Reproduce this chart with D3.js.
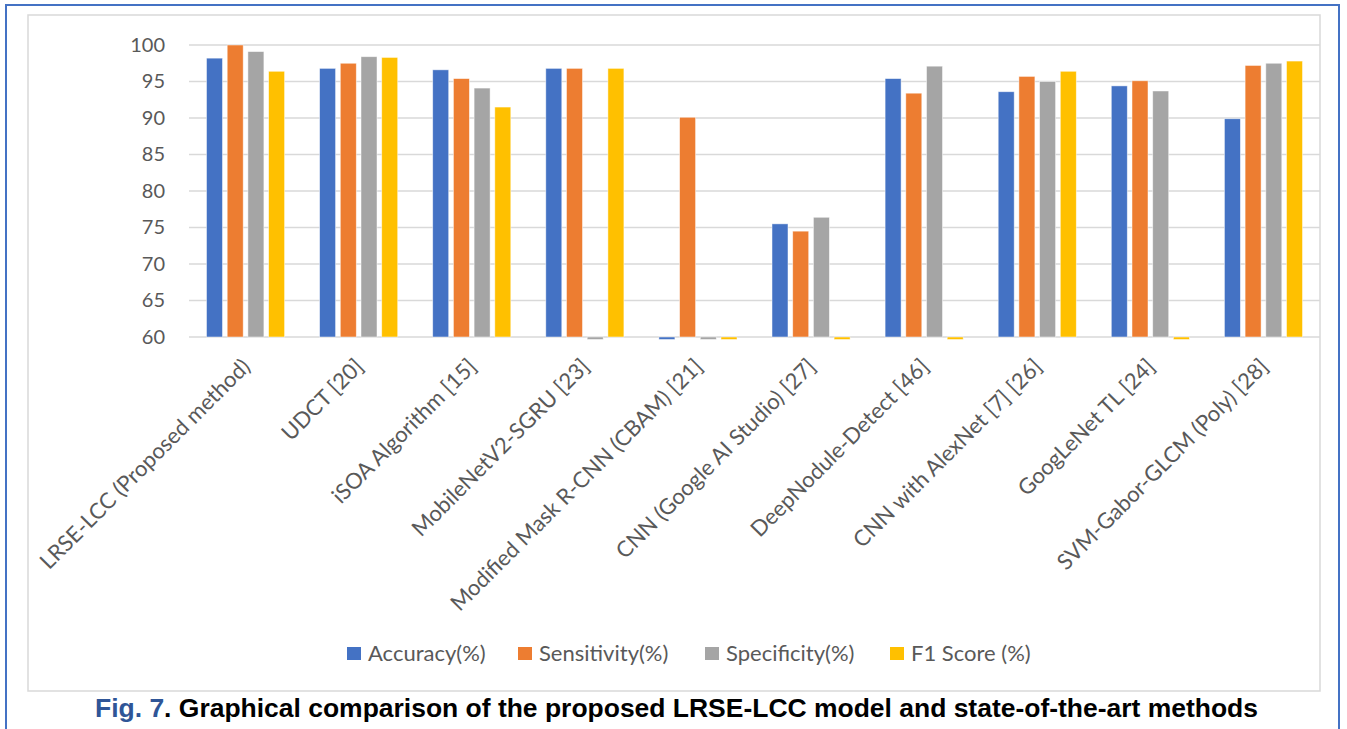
<!DOCTYPE html>
<html>
<head>
<meta charset="utf-8">
<script src="https://cdn.jsdelivr.net/npm/d3@7"></script>
<style>
  body { margin: 0; background: #fff; }
  svg { display: block; }
</style>
</head>
<body>
<div id="chart"></div>
<script>
const categories = [
  'LRSE-LCC (Proposed method)', 'UDCT [20]', 'iSOA Algorithm [15]', 'MobileNetV2-SGRU [23]',
  'Modified Mask R-CNN (CBAM) [21]', 'CNN (Google AI Studio) [27]', 'DeepNodule-Detect [46]',
  'CNN with AlexNet [7] [26]', 'GoogLeNet TL [24]', 'SVM-Gabor-GLCM (Poly) [28]'
];
const seriesNames = ['Accuracy(%)', 'Sensitivity(%)', 'Specificity(%)', 'F1 Score (%)'];
const accuracy    = [98.2, 96.8, 96.6, 96.8, 0,    75.5, 95.4, 93.6, 94.4, 89.9];
const sensitivity = [100,  97.5, 95.4, 96.8, 90.1, 74.5, 93.4, 95.7, 95.1, 97.2];
const specificity = [99.1, 98.4, 94.1, 0,    0,    76.4, 97.1, 95.0, 93.7, 97.5];
const f1Score     = [96.4, 98.3, 91.5, 96.8, 0,    0,    0,    96.4, 0,    97.8];
const yTicks = [60, 65, 70, 75, 80, 85, 90, 95, 100];
const colors = ['#4472c4', '#ed7d31', '#a5a5a5', '#ffc000'];

const seriesValues = [accuracy, sensitivity, specificity, f1Score];

let svgWidth = 1347, svgHeight = 729,
  plotLeft = 189, plotRight = 1320,
  plotTop = 45, plotBottom = 337,
  labelFont = 'Lato, "Open Sans", sans-serif';

const svg = d3.select('#chart')
  .append('svg')
  .attr('width', svgWidth)
  .attr('height', svgHeight);

// outer blue frame
svg.append('rect')
  .attr('x', 6).attr('y', 5)
  .attr('width', 1333).attr('height', 740)
  .attr('fill', 'none')
  .attr('stroke', '#4472c4')
  .attr('stroke-width', 2);

// chart area frame
svg.append('rect')
  .attr('x', 28).attr('y', 15)
  .attr('width', 1292).attr('height', 676)
  .attr('fill', '#fff')
  .attr('stroke', '#d9d9d9')
  .attr('stroke-width', 1.5);

const x = d3.scaleBand().domain(categories).range([plotLeft, plotRight]);
const xInner = d3.scaleBand().domain(seriesNames).range([0, x.bandwidth()])
  .paddingInner(0.227).paddingOuter(0.845);
const y = d3.scaleLinear().domain([60, 100]).range([plotBottom, plotTop]);

// gridlines
svg.append('g')
  .selectAll('line')
  .data(yTicks)
  .enter()
  .append('line')
  .attr('x1', plotLeft).attr('x2', plotRight)
  .attr('y1', d => y(d)).attr('y2', d => y(d))
  .attr('stroke', '#d9d9d9')
  .attr('stroke-width', 1.5);

// y axis labels
const yAxis = svg.append('g')
  .attr('transform', `translate(${plotLeft}, 0)`)
  .call(d3.axisLeft(y).tickValues(yTicks).tickSize(0).tickPadding(24));
yAxis.select('.domain').remove();
yAxis.selectAll('text')
  .attr('font-family', labelFont)
  .attr('font-size', 20)
  .attr('fill', '#595959');

// bars, one group per method
const rows = categories.map((c, i) => ({
  category: c,
  values: seriesNames.map((s, j) => ({ series: s, value: seriesValues[j][i], color: colors[j] }))
}));

const groups = svg.selectAll('.group')
  .data(rows)
  .enter()
  .append('g')
  .attr('class', 'group')
  .attr('transform', d => `translate(${x(d.category)}, 0)`);

groups.selectAll('rect')
  .data(d => d.values)
  .enter()
  .append('rect')
  .attr('x', d => xInner(d.series))
  .attr('width', xInner.bandwidth())
  // values under the axis minimum show as a thin stub under the baseline
  .attr('y', d => d.value >= 60 ? y(d.value) : y(60))
  .attr('height', d => d.value >= 60 ? y(60) - y(d.value) : 2.5)
  .attr('fill', d => d.color)
  .attr('stroke', '#fff')
  .attr('stroke-opacity', 0.6)
  .attr('stroke-width', 0.8);

// rotated category labels
svg.selectAll('.x-label')
  .data(categories)
  .enter()
  .append('text')
  .attr('class', 'x-label')
  .attr('transform', d => `translate(${x(d) + x.bandwidth() / 2 + 6}, 368) rotate(-45)`)
  .attr('text-anchor', 'end')
  .attr('font-family', labelFont)
  .attr('font-size', 22)
  .attr('fill', '#595959')
  .text(d => d);

// legend
const legendX = [347, 518, 705, 890];
const legend = svg.selectAll('.legend')
  .data(seriesNames)
  .enter()
  .append('g')
  .attr('class', 'legend')
  .attr('transform', (d, i) => `translate(${legendX[i]}, 654)`);

legend.append('rect')
  .attr('x', 0).attr('y', -7)
  .attr('width', 14).attr('height', 13)
  .attr('fill', (d, i) => colors[i]);

legend.append('text')
  .attr('x', 21).attr('y', 7)
  .attr('font-family', labelFont)
  .attr('font-size', 22)
  .attr('fill', '#595959')
  .text(d => d);

// caption
const caption = svg.append('text')
  .attr('x', 95).attr('y', 717)
  .attr('font-family', '"Liberation Sans", Arial, sans-serif')
  .attr('font-weight', 'bold')
  .attr('font-size', 25)
  .attr('textLength', 1163)
  .attr('lengthAdjust', 'spacingAndGlyphs');
caption.append('tspan').attr('fill', '#2f5597').text('Fig. 7');
caption.append('tspan').attr('fill', '#000').text('. Graphical comparison of the proposed LRSE-LCC model and state-of-the-art methods');
</script>
</body>
</html>
